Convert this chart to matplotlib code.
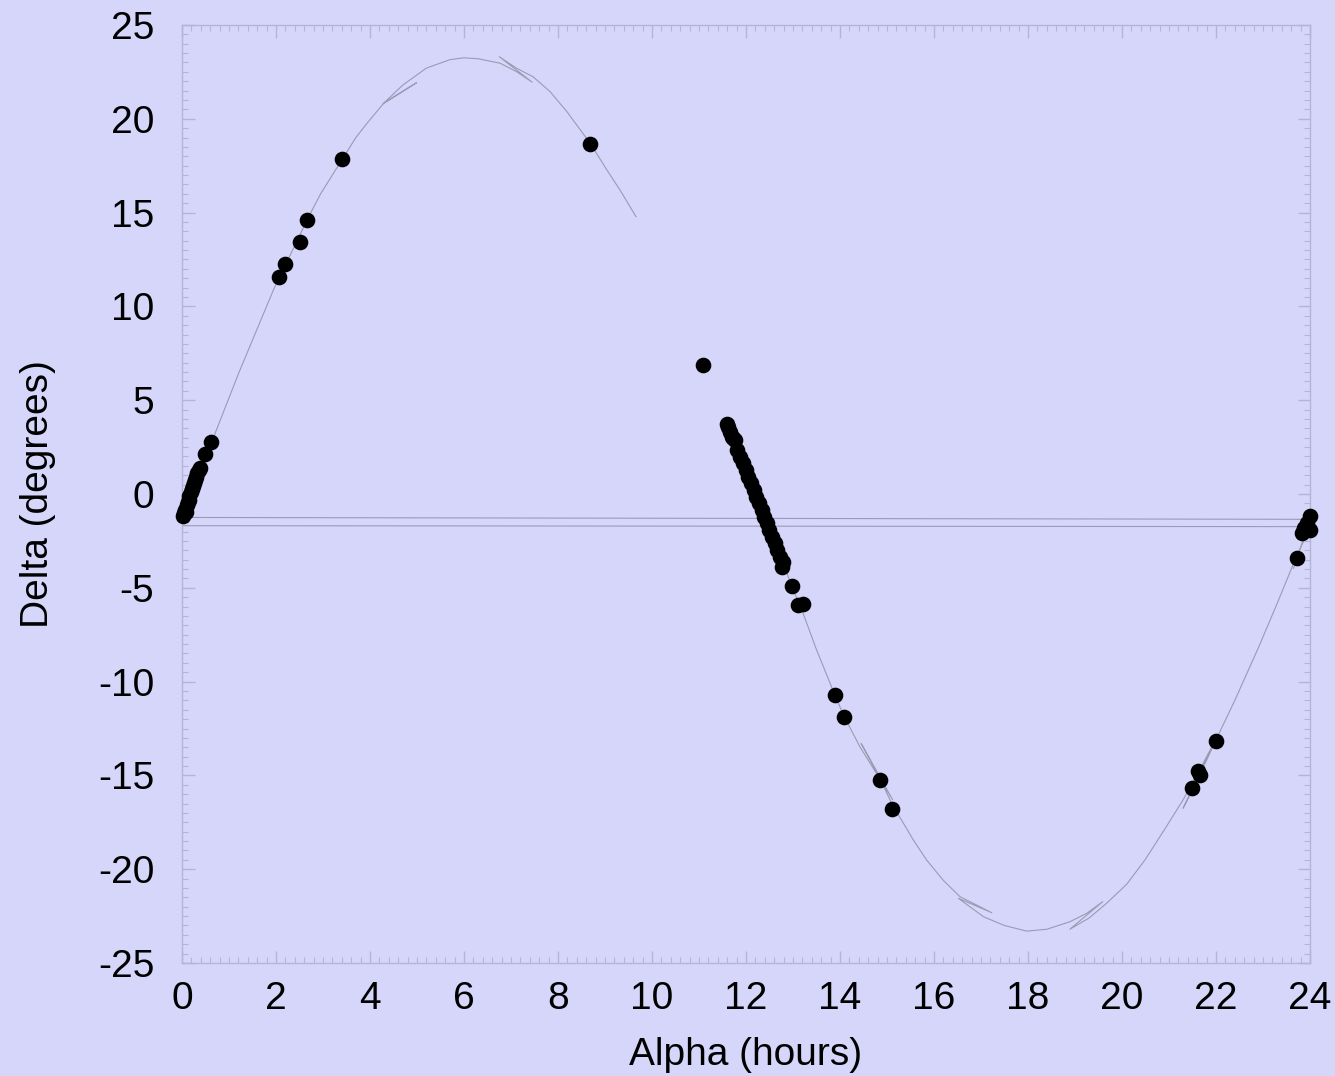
import matplotlib
matplotlib.use("Agg")
import matplotlib.pyplot as plt

plt.rcParams["font.family"] = ["Liberation Sans", "DejaVu Sans"]
plt.rcParams["axes.unicode_minus"] = False

BG = "#d6d6fb"
LINE = "#9a9ab4"
FRAME = "#b4b4d4"

# track of the object, first branch (0h .. 9.7h), with the small back-and-forth folds
track_a_alpha = [0.0, 0.2, 0.45, 0.7, 0.95, 1.2, 1.45, 1.7, 1.95, 2.2, 2.45, 2.7, 2.95,
                 3.2, 3.45, 3.7, 3.95, 4.3, 4.99, 4.28, 4.7, 5.2, 5.7, 6.0, 6.3, 6.77,
                 7.12, 7.45, 6.75, 7.12, 7.47, 7.83, 8.19, 8.70, 9.04, 9.32, 9.66]
track_a_delta = [-1.25, 0.0, 1.6, 3.2, 4.8, 6.4, 7.9, 9.4, 10.9, 12.2, 13.5, 14.8, 16.0,
                 17.0, 18.0, 19.0, 19.8, 20.85, 21.92, 20.8, 21.8, 22.7, 23.15, 23.25, 23.2, 22.96,
                 22.51, 21.95, 23.31, 22.69, 22.24, 21.45, 20.38, 18.64, 17.27, 16.2, 14.78]

# second branch (11.6h .. 24h), ending with the wrap back to 0h
track_b_alpha = [11.59, 11.84, 12.23, 12.51, 12.79, 12.97, 13.15, 13.5, 13.89, 14.09, 14.43,
                 14.8, 15.12, 14.45, 14.85, 15.10, 15.56, 15.84, 16.2, 16.55, 17.23, 16.52,
                 17.05, 17.5, 17.97, 18.4, 18.89, 19.25, 19.59, 18.89, 19.3, 19.67, 20.1,
                 20.49, 20.9, 21.3, 21.65, 21.95, 21.30, 21.65, 22.0, 22.4, 22.9, 23.29,
                 23.65, 24.0, 0.0]
track_b_delta = [3.77, 2.35, -0.14, -1.92, -3.61, -4.94, -5.92, -8.3, -10.71, -11.87, -13.5,
                 -15.0, -16.3, -13.3, -15.15, -16.5, -18.44, -19.5, -20.6, -21.46, -22.32, -21.55,
                 -22.53, -23.0, -23.3, -23.2, -22.8, -22.35, -21.73, -23.2, -22.6, -21.82, -20.8,
                 -19.5, -17.9, -16.3, -14.7, -13.3, -16.75, -15.0, -13.1, -11.0, -8.2, -5.9,
                 -3.7, -1.74, -1.69]

# short fold near 24h that wraps into the first branch
track_c_alpha = [23.65, 24.0, 0.0]
track_c_delta = [-3.96, -1.35, -1.25]

# observed positions
obs_alpha = [0.02, 0.04, 0.06, 0.08, 0.10, 0.12, 0.14, 0.16, 0.19, 0.21, 0.23, 0.26, 0.28,
             0.30, 0.33, 0.36, 0.39, 0.48, 0.61, 2.06, 2.19, 2.51, 2.66, 3.40, 8.68, 11.09,
             11.59, 11.62, 11.66, 11.70, 11.72, 11.77, 11.815, 11.87, 11.93, 11.99, 12.04,
             12.10, 12.16, 12.21, 12.27, 12.33, 12.38, 12.44, 12.50, 12.55, 12.61, 12.67,
             12.72, 12.79, 12.76, 12.97, 13.11, 13.21, 13.89, 14.09, 14.85, 15.10,
             21.48, 21.62, 21.65, 21.99, 23.72, 23.82, 23.87, 23.93, 23.99, 24.0]
obs_delta = [-1.15, -1.0, -0.85, -0.95, -0.6, -0.45, -0.3, -0.1, 0.1, 0.25, 0.4, 0.6, 0.75,
             0.9, 1.1, 1.3, 1.4, 2.12, 2.76, 11.57, 12.26, 13.43, 14.6, 17.86, 18.66, 6.88,
             3.73, 3.59, 3.32, 3.05, 2.97, 2.88, 2.35, 1.99, 1.64, 1.28, 0.92,
             0.57, 0.21, -0.14, -0.50, -0.85, -1.21, -1.56, -1.92, -2.28, -2.63, -2.99,
             -3.34, -3.61, -3.87, -4.90, -5.92, -5.88, -10.71, -11.87, -15.25, -16.8,
             -15.69, -14.75, -14.98, -13.17, -3.39, -2.06, -1.83, -1.56, -1.16, -1.92]

x_ticks = list(range(0, 25, 2))
y_ticks = list(range(-25, 26, 5))

fig = plt.figure(figsize=(13.35, 10.76), dpi=100, facecolor=BG)
ax = fig.add_axes([0.1363, 0.105, 0.845, 0.8718], facecolor=BG)

ax.plot(track_a_alpha, track_a_delta, color=LINE, lw=0.8)
ax.plot(track_b_alpha, track_b_delta, color=LINE, lw=0.8)
ax.plot(track_c_alpha, track_c_delta, color=LINE, lw=0.8)
ax.scatter(obs_alpha, obs_delta, s=105, color="black", zorder=3, clip_on=False)

ax.set_xlim(0, 24)
ax.set_ylim(-25, 25)
ax.set_xticks(x_ticks)
ax.set_yticks(y_ticks)
ax.set_xticks([i * 0.2 for i in range(121)], minor=True)
ax.set_yticks([-25 + i * 0.5 for i in range(101)], minor=True)

for s in ax.spines.values():
    s.set_color(FRAME)
    s.set_linewidth(1.0)
ax.tick_params(which="both", direction="in", top=True, right=True, color=FRAME)
ax.tick_params(which="major", length=9, width=1.0, labelsize=28)
ax.tick_params(which="minor", length=4.5, width=0.8)
ax.tick_params(axis="x", which="major", pad=13)
ax.tick_params(axis="y", which="major", pad=20)

ax.set_xlabel("Alpha (hours)", fontsize=28, labelpad=14)
ax.set_ylabel("Delta (degrees)", fontsize=28, labelpad=30)

fig.savefig("out.png", dpi=100, facecolor=BG)
plt.close(fig)
